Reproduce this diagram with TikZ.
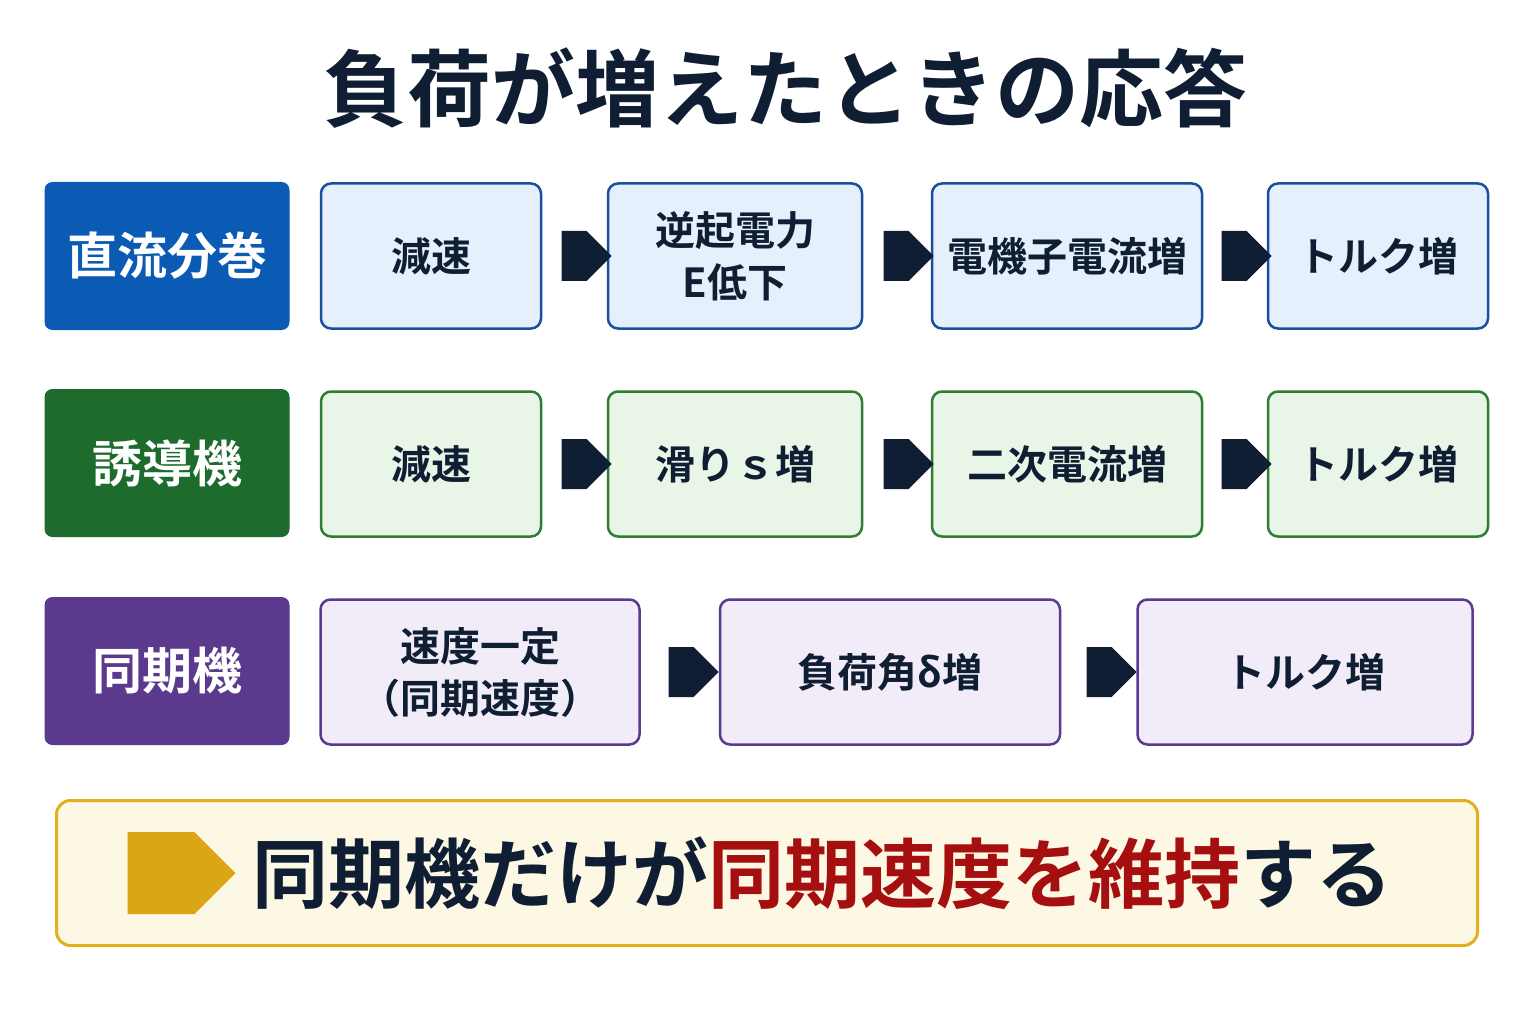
\documentclass[tikz,border=0pt]{standalone}
\usepackage{fontspec}
\setmainfont{Noto Sans CJK JP}[BoldFont={Noto Sans CJK JP Bold}]
\usetikzlibrary{shapes.arrows}
\definecolor{navy}{HTML}{0F1E33}
\definecolor{bdark}{HTML}{0B5BB5}\definecolor{bfill}{HTML}{E6F0FC}\definecolor{bline}{HTML}{1A4FA0}
\definecolor{gdark}{HTML}{1E6B2E}\definecolor{gfill}{HTML}{E9F5E6}\definecolor{gline}{HTML}{2E7D32}
\definecolor{pdark}{HTML}{5B3A8E}\definecolor{pfill}{HTML}{F1ECF8}\definecolor{pline}{HTML}{5B3A8E}
\definecolor{yfill}{HTML}{FDF8E4}\definecolor{yline}{HTML}{E2B01E}\definecolor{gold}{HTML}{DBA515}
\definecolor{dred}{HTML}{A50F0F}
\begin{document}
\begin{tikzpicture}[x=1pt,y=-1pt,
 lab/.style={rounded corners=8pt,minimum height=148pt,minimum width=245pt,text=white,font=\fontsize{50}{56}\selectfont\bfseries,inner sep=0pt},
 box/.style={rounded corners=10pt,line width=2.5pt,minimum height=145pt,font=\fontsize{40}{52}\selectfont\bfseries,text=navy,align=center,inner sep=0pt},
 arr/.style={single arrow,fill=navy,minimum width=50pt,single arrow head extend=0pt,minimum height=50pt,inner sep=0pt,single arrow tip angle=90,shape border uses incircle=false}]
\useasboundingbox[fill=white] (0,0) rectangle (1536,1024);
\node[font=\fontsize{84}{90}\selectfont\bfseries,text=navy] (title) at (785,88) {負荷が増えたときの応答};
% row1
\node[lab,fill=bdark] (l1) at (167,256) {直流分巻};
\node[box,fill=bfill,draw=bline,minimum width=220pt] (a1) at (431,256) {減速};
\node[box,fill=bfill,draw=bline,minimum width=254pt] (a2) at (735,256) {逆起電力\\E低下};
\node[box,fill=bfill,draw=bline,minimum width=270pt] (a3) at (1067,256) {電機子電流増};
\node[box,fill=bfill,draw=bline,minimum width=220pt] (a4) at (1378,256) {トルク増};
\node[arr] (r11) at (574,256) {};
\node[arr] (r12) at (896,256) {};
\node[arr] (r13) at (1234,256) {};
% row2
\node[lab,fill=gdark] (l2) at (167,463) {誘導機};
\node[box,fill=gfill,draw=gline,minimum width=220pt] (b1) at (431,464) {減速};
\node[box,fill=gfill,draw=gline,minimum width=254pt] (b2) at (735,464) {滑りｓ増};
\node[box,fill=gfill,draw=gline,minimum width=270pt] (b3) at (1067,464) {二次電流増};
\node[box,fill=gfill,draw=gline,minimum width=220pt] (b4) at (1378,464) {トルク増};
\node[arr] (r21) at (574,464) {};
\node[arr] (r22) at (896,464) {};
\node[arr] (r23) at (1234,464) {};
% row3
\node[lab,fill=pdark] (l3) at (167,671) {同期機};
\node[box,fill=pfill,draw=pline,minimum width=319pt] (c1) at (480,672) {速度一定\\（同期速度）};
\node[box,fill=pfill,draw=pline,minimum width=340pt] (c2) at (890,672) {負荷角δ増};
\node[box,fill=pfill,draw=pline,minimum width=335pt] (c3) at (1305,672) {トルク増};
\node[arr] (r31) at (681,672) {};
\node[arr] (r32) at (1099,672) {};
% bottom
\node[rounded corners=14pt,line width=3pt,draw=yline,fill=yfill,minimum width=1421pt,minimum height=145pt] (bot) at (767,873) {};
\node[single arrow,fill=gold,minimum width=82pt,single arrow head extend=0pt,minimum height=108pt,inner sep=0pt,single arrow tip angle=90,shape border uses incircle=false] (ga) at (161,873) {};
\node[anchor=west,font=\fontsize{76}{80}\selectfont\bfseries,text=navy,inner sep=0pt] (bt) at (252,873) {同期機だけが\textcolor{dred}{同期速度を維持}する};
\end{tikzpicture}
\end{document}
